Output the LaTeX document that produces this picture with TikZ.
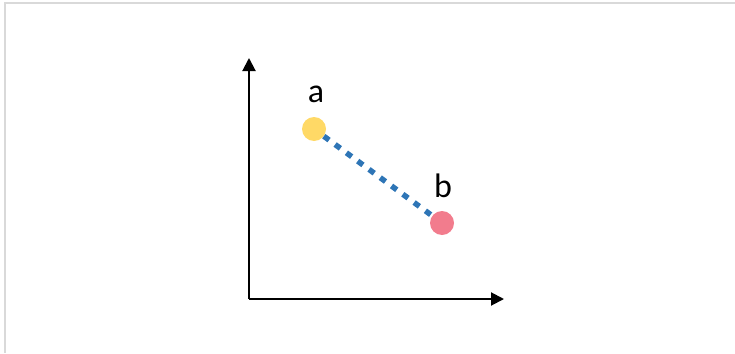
\documentclass[tikz,border=0pt]{standalone}
\usepackage{fontspec}
\setmainfont{Carlito}
\usetikzlibrary{arrows.meta}
\definecolor{framegray}{HTML}{D9D9D9}
\definecolor{ptyellow}{HTML}{FFD966}
\definecolor{ptpink}{HTML}{F27C8D}
\definecolor{lineblue}{HTML}{2E75B6}
\tikzset{
  axis/.style={line width=2pt, -{Triangle[length=13pt,width=13pt]}},
  pt/.style={circle, inner sep=0pt, minimum size=24pt},
  lbl/.style={font=\fontsize{34}{36}\selectfont, inner sep=0pt},
  link/.style={lineblue, line width=5.5pt, dash pattern=on 6.5pt off 7.5pt}
}
\begin{document}
\begin{tikzpicture}[x=1pt,y=-1pt]
\useasboundingbox (0,0) rectangle (735,353);
\draw[framegray, line width=2pt] (5,353) -- (5,3) -- (735,3);
\coordinate (o) at (249,299);
\coordinate (ytip) at (249,58);
\coordinate (xtip) at (504,299);
\draw[axis] (o) -- (ytip);
\draw[axis] (o) -- (xtip);
\node[pt, fill=ptyellow] (a) at (314,129) {};
\node[pt, fill=ptpink] (b) at (442,223) {};
\draw[link] (a) -- (b);
\node[lbl] (la) at (316,94) {a};
\node[lbl] (lb) at (443,186) {b};
\end{tikzpicture}
\end{document}
